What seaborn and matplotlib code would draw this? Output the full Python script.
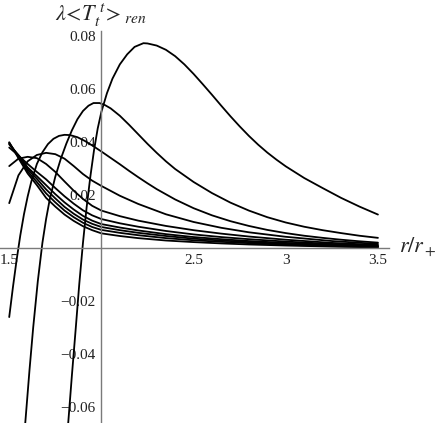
import numpy as np
import pandas as pd
import matplotlib
matplotlib.use("Agg")
import matplotlib.pyplot as plt
import seaborn as sns
from matplotlib.ticker import MultipleLocator, FixedLocator

# curves that dive below the plot on the left (own r grids)
r_a = [1.80, 1.82, 1.84, 1.86, 1.88, 1.90, 1.92, 1.94, 1.96, 1.98, 2.0, 2.03, 2.06, 2.1, 2.14,
       2.18, 2.228, 2.25, 2.3, 2.35, 2.4, 2.45, 2.5, 2.55, 2.6, 2.65, 2.7, 2.75, 2.8, 2.85,
       2.9, 2.95, 3.0, 3.1, 3.2, 3.3, 3.4, 3.5]
v_a = [-0.085, -0.066, -0.048, -0.031, -0.0135, 0.002, 0.0155, 0.027, 0.037, 0.0452, 0.0515,
       0.0585, 0.064, 0.0694, 0.0732, 0.0760, 0.0774, 0.0773, 0.0765, 0.0749, 0.0725, 0.0694,
       0.0658, 0.0619, 0.0579, 0.0538, 0.0498, 0.046, 0.0424, 0.0391, 0.0361, 0.0334, 0.0309,
       0.0265, 0.0227, 0.0190, 0.0157, 0.0127]

r_b = [1.57, 1.587, 1.61, 1.63, 1.655, 1.68, 1.70, 1.72, 1.75, 1.78, 1.81, 1.84, 1.87, 1.90,
       1.93, 1.957, 1.99, 2.02, 2.05, 2.1, 2.15, 2.2, 2.25, 2.3, 2.35, 2.4, 2.5, 2.6, 2.7,
       2.8, 2.9, 3.0, 3.1, 3.2, 3.3, 3.4, 3.5]
v_b = [-0.081, -0.066, -0.046, -0.030, -0.0125, 0.002, 0.011, 0.0185, 0.027, 0.0338, 0.0395,
       0.0445, 0.0487, 0.0518, 0.0538, 0.0548, 0.0548, 0.054, 0.0528, 0.0500, 0.0466, 0.0430,
       0.0394, 0.0360, 0.0328, 0.0299, 0.0250, 0.0208, 0.0172, 0.0142, 0.0117, 0.0097, 0.0081,
       0.0068, 0.0057, 0.0047, 0.0039]

r_c = [1.5, 1.52, 1.54, 1.56, 1.58, 1.60, 1.62, 1.65, 1.68, 1.71, 1.74, 1.77, 1.80, 1.83, 1.87,
       1.91, 1.95, 2.0, 2.05, 2.1, 2.15, 2.2, 2.25, 2.3, 2.4, 2.5, 2.6, 2.7, 2.8, 2.9, 3.0,
       3.1, 3.2, 3.3, 3.4, 3.5]
v_c = [-0.026, -0.0148, -0.0045, 0.0048, 0.0128, 0.0195, 0.0252, 0.0318, 0.0362, 0.0393,
       0.0413, 0.0424, 0.0428, 0.0427, 0.0419, 0.0405, 0.0388, 0.0365, 0.0341, 0.0317, 0.0292,
       0.0268, 0.0245, 0.0223, 0.0184, 0.0151, 0.0124, 0.0102, 0.0084, 0.0069, 0.0057, 0.0047,
       0.0039, 0.0032, 0.0026, 0.0021]

# bundle of curves starting near r = 1.5 (shared r grid)
r_grid = [1.5, 1.55, 1.6, 1.65, 1.7, 1.75, 1.8, 1.85, 1.9, 1.95, 2.0, 2.1, 2.2, 2.35, 2.5,
          2.65, 2.8, 3.0, 3.25, 3.5]
v_d = [0.017, 0.0275, 0.0328, 0.0352, 0.036, 0.0355, 0.0338, 0.031, 0.028, 0.0255, 0.0235,
       0.0198, 0.0167, 0.0128, 0.0099, 0.0077, 0.006, 0.0043, 0.0027, 0.0016]
v_e = [0.031, 0.0338, 0.0345, 0.034, 0.0318, 0.0288, 0.0252, 0.0217, 0.0186, 0.016, 0.0142,
       0.0121, 0.0104, 0.0084, 0.0068, 0.0055, 0.0044, 0.0032, 0.002, 0.0012]
v_f = [0.038, 0.035, 0.0318, 0.0288, 0.026, 0.0227, 0.0196, 0.0168, 0.0143, 0.0124, 0.011,
       0.0094, 0.0081, 0.0065, 0.0052, 0.0042, 0.0034, 0.0025, 0.0016, 0.0009]
v_g = [0.0392, 0.0352, 0.0305, 0.0272, 0.0238, 0.0204, 0.0173, 0.0146, 0.0122, 0.0104, 0.0091,
       0.0078, 0.0067, 0.0053, 0.0042, 0.0034, 0.0027, 0.002, 0.0013, 0.0007]
v_h = [0.0395, 0.0348, 0.0298, 0.0262, 0.0222, 0.0188, 0.0156, 0.013, 0.0108, 0.0092, 0.008,
       0.0068, 0.0058, 0.0046, 0.0036, 0.0029, 0.0023, 0.0016, 0.001, 0.0006]
v_i = [0.0398, 0.0344, 0.029, 0.025, 0.0207, 0.0173, 0.0142, 0.0117, 0.0096, 0.008, 0.0069,
       0.0058, 0.0049, 0.0038, 0.003, 0.0024, 0.0019, 0.0013, 0.0008, 0.0005]
v_j = [0.040, 0.034, 0.0282, 0.0238, 0.019, 0.0157, 0.0127, 0.0103, 0.0083, 0.0068, 0.0056,
       0.0046, 0.0038, 0.0029, 0.0023, 0.0018, 0.0014, 0.001, 0.0006, 0.0003]

x_ticks = [1.5, 2.5, 3.0, 3.5]
x_labels = ["1.5", "2.5", "3", "3.5"]
y_ticks = [-0.06, -0.04, -0.02, 0.02, 0.04, 0.06, 0.08]

sns.set_style("white")
plt.rcParams["font.family"] = ["Liberation Serif", "DejaVu Serif"]
plt.rcParams["mathtext.fontset"] = "stix"

fig = plt.figure(figsize=(4.36, 4.23), dpi=100)
ax = fig.add_axes([0.0, 0.0, 389 / 436, 392 / 423])
ax.patch.set_alpha(0)

curves = [(r_a, v_a), (r_b, v_b), (r_c, v_c)] + [
    (r_grid, v) for v in (v_d, v_e, v_f, v_g, v_h, v_i, v_j)]
for r, v in curves:
    sns.lineplot(x=r, y=v, ax=ax, color="black", lw=1.3, sort=False, estimator=None)

ax.set_xlim(1.45, 3.56)
ax.set_ylim(-0.066, 0.082)

# Mathematica style axes crossing at (2, 0)
ax.spines["left"].set_position(("data", 2.0))
ax.spines["bottom"].set_position(("data", 0.0))
ax.spines["top"].set_visible(False)
ax.spines["right"].set_visible(False)
for s in ("left", "bottom"):
    ax.spines[s].set_color("#7a7a7a")
    ax.spines[s].set_linewidth(1.0)

ax.xaxis.set_major_locator(FixedLocator(x_ticks))
ax.set_xticklabels(x_labels)
ax.xaxis.set_minor_locator(MultipleLocator(0.1))
ax.yaxis.set_major_locator(FixedLocator(y_ticks))
ax.set_yticklabels([f"{t:.2f}".replace("-", "\u2212") for t in y_ticks])
ax.yaxis.set_minor_locator(MultipleLocator(0.005))
ax.tick_params(which="both", direction="in", color="#7a7a7a", labelsize=11,
               labelcolor="#222222", width=0.8)
ax.tick_params(which="major", length=5, pad=4)
ax.tick_params(which="minor", length=2.5)

ax.set_xlabel("")
ax.set_ylabel("")
fig.text(0.127, 0.950, r"$\lambda\!<\!T_t^{\;t}\!>_{ren}$", fontsize=16, va="baseline", ha="left")
fig.text(0.915, 0.415, r"$r/r_+$", fontsize=16, va="center", ha="left")

fig.savefig("out.png", dpi=100)
